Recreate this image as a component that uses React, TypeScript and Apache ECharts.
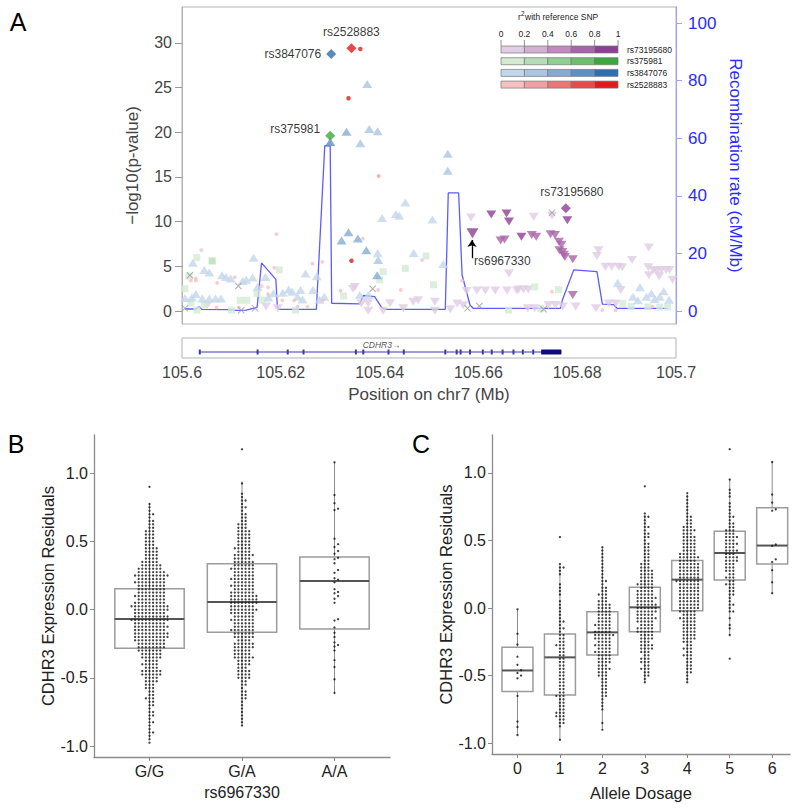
import React, { useEffect, useRef } from "react";
import * as echarts from "echarts";

const FONT = "'Liberation Sans', Arial, Helvetica, sans-serif";

// ---------------- Panel A : regional association plot ----------------
const positionTicks = [105.6, 105.62, 105.64, 105.66, 105.68, 105.7];
const logpTicks = [0, 5, 10, 15, 20, 25, 30];
const recombTicks = [0, 20, 40, 60, 80, 100];
const r2TickLabels = ["0", "0.2", "0.4", "0.6", "0.8", "1"];
const legendSnps = ["rs73195680", "rs375981", "rs3847076", "rs2528883"];

const purpleShades = ["#e0cce4", "#d4afd4", "#c08ac0", "#a864a8", "#8e3f94"];
const greenShades = ["#d3ebd3", "#b5deb5", "#90d090", "#6cbf6c", "#3aa83a"];
const blueShades = ["#c3d7ec", "#a9c6e3", "#86abd2", "#5e8fc3", "#2f6eb0"];
const redShades = ["#f7c0c0", "#f4a0a0", "#ef7575", "#ea4a4a", "#e31a1c"];

// recombination rate (cM/Mb) along the region: [position Mb, rate]
const recombRate = [
  [105.6006, 0.7], [105.6028, 0.7], [105.6035, 1.5], [105.604, 0.6], [105.6096, 0.5],
  [105.611, 0.2], [105.613, 0.3], [105.6152, 1.3], [105.6161, 16.7], [105.619, 11.0],
  [105.6193, 1.5], [105.6196, 0.6], [105.6272, 0.6], [105.6289, 57.4], [105.63, 57.4],
  [105.6303, 2.7], [105.636, 2.5], [105.6367, 5.4], [105.639, 5.0], [105.6404, 1.3],
  [105.641, 0.6], [105.6533, 0.6], [105.6539, 41], [105.656, 41], [105.6567, 12.5],
  [105.6583, 2.1], [105.659, 0.9], [105.6766, 0.9], [105.677, 3.8], [105.6793, 14.3],
  [105.684, 13.7], [105.6851, 2.4], [105.6874, 2.2], [105.6881, 0.9], [105.6983, 0.9],
];

// SNPs in LD with rs3847076 (up triangles): [position, -log10 p, r2 class 0..4]
const ldBlueTriangles = [
  [105.6375, 25.4, 1], [105.6333, 20.05, 2], [105.6379, 20.35, 1], [105.6396, 20.1, 1],
  [105.6361, 18.75, 1], [105.63, 18.9, 3], [105.6538, 17.6, 1], [105.6538, 15.7, 1],
  [105.6323, 7.9, 2], [105.6337, 8.8, 2], [105.6356, 8.1, 2], [105.6373, 6.8, 2],
  [105.6395, 4.0, 2], [105.6397, 5.7, 1], [105.6396, 6.45, 0], [105.6405, 10.4, 0],
  [105.6433, 10.85, 0], [105.644, 10.65, 0], [105.6452, 12.15, 0], [105.6469, 6.5, 0],
  [105.6507, 10.25, 0], [105.6529, 5.25, 0], [105.6022, 5.4, 0], [105.6045, 4.6, 0],
  [105.6055, 4.3, 0], [105.6081, 4.0, 0], [105.6089, 3.8, 0], [105.6099, 3.65, 0],
  [105.6123, 3.35, 0], [105.613, 3.5, 0], [105.6143, 3.75, 0], [105.6145, 5.95, 0],
  [105.6153, 2.7, 0], [105.6169, 3.8, 0], [105.6006, 1.45, 0], [105.602, 1.5, 0],
  [105.6041, 1.4, 0], [105.6055, 1.4, 0], [105.6068, 1.4, 0], [105.6079, 1.4, 0],
  [105.6175, 1.5, 0], [105.6185, 2.0, 0], [105.6204, 2.05, 0], [105.6216, 2.4, 0],
  [105.6223, 2.15, 0], [105.624, 2.35, 0], [105.6234, 1.6, 0], [105.6244, 1.3, 0],
  [105.625, 4.2, 0], [105.6265, 2.35, 0], [105.6273, 3.9, 0], [105.6278, 1.25, 0],
  [105.6288, 1.6, 0], [105.636, 1.8, 0], [105.6377, 1.8, 0], [105.6882, 3.15, 0],
  [105.6913, 1.6, 0], [105.6923, 1.2, 0], [105.6927, 2.65, 0], [105.694, 1.6, 0],
  [105.695, 2.0, 0], [105.6957, 1.35, 0], [105.6967, 1.6, 0], [105.6975, 2.2, 0],
  [105.6986, 1.25, 0], [105.6028, 1.9, 0],
];

// SNPs in LD with rs73195680 (down triangles)
const ldPurpleTriangles = [
  [105.6626, 10.8, 4], [105.6657, 10.9, 4], [105.6662, 10.0, 4], [105.6645, 7.9, 3],
  [105.6653, 8.0, 3], [105.6687, 8.3, 4], [105.6708, 8.5, 3], [105.6717, 8.3, 3],
  [105.6746, 8.6, 3], [105.6755, 8.5, 3], [105.6763, 7.75, 3], [105.6768, 7.4, 3],
  [105.6764, 6.8, 3], [105.677, 6.6, 3], [105.6773, 6.3, 3], [105.6775, 6.05, 3],
  [105.6791, 5.8, 3], [105.678, 10.15, 4], [105.6791, 1.8, 3], [105.6585, 10.45, 0],
  [105.6712, 10.55, 0], [105.6749, 10.65, 0], [105.6662, 4.2, 0], [105.684, 6.15, 0],
  [105.6843, 6.8, 0], [105.6945, 7.1, 0], [105.6911, 5.7, 0], [105.6857, 4.95, 0],
  [105.687, 4.95, 0], [105.6884, 4.95, 0], [105.6891, 4.9, 0], [105.6944, 4.9, 0],
  [105.6954, 4.6, 0], [105.6961, 4.45, 0], [105.697, 4.6, 0], [105.698, 4.6, 0],
  [105.6987, 4.6, 0], [105.6993, 3.5, 0], [105.6945, 4.0, 0], [105.6966, 3.9, 0],
  [105.6051, 0.65, 0], [105.617, 0.5, 0], [105.6194, 0.3, 0], [105.6346, 2.5, 0],
  [105.635, 2.7, 0], [105.6363, 0.85, 0], [105.6377, 0.86, 0], [105.6377, 0.03, 0],
  [105.6407, 0.03, 0], [105.6421, 0.86, 0], [105.6448, 0.3, 0], [105.6468, 1.04, 0],
  [105.6478, 1.2, 0], [105.6512, 1.04, 0], [105.6512, 0.03, 0], [105.6543, 0.2, 0],
  [105.6557, 0.85, 0], [105.6569, 0.65, 0], [105.6576, 2.25, 0], [105.6597, 2.3, 0],
  [105.6614, 2.3, 0], [105.6634, 2.3, 0], [105.6658, 2.3, 0], [105.6678, 2.3, 0],
  [105.6681, 2.4, 0], [105.6691, 2.4, 0], [105.6701, 2.4, 0], [105.67, 0.3, 0],
  [105.6714, 0.3, 0], [105.6742, 0.65, 0], [105.6756, 0.67, 0], [105.6771, 0.5, 0],
  [105.6797, 0.5, 0], [105.6838, 0.3, 0], [105.6864, 0.85, 0], [105.6878, 0.85, 0],
  [105.6888, 2.35, 0],
];

// SNPs in LD with rs375981 (squares)
const ldGreenSquares = [
  [105.603, 5.97, 0], [105.6061, 5.6, 1], [105.6014, 3.9, 0], [105.6006, 2.5, 0],
  [105.603, 0.1, 0], [105.6152, 1.98, 0], [105.6163, 1.23, 0], [105.6118, 1.2, 0],
  [105.6131, 1.2, 0], [105.6197, 4.6, 0], [105.6327, 1.68, 0], [105.6407, 4.4, 0],
  [105.64, 3.5, 0], [105.6452, 4.77, 0], [105.6494, 6.15, 0], [105.6509, 2.94, 0],
  [105.6661, 0.1, 0], [105.6714, 2.7, 0], [105.6762, 2.4, 0], [105.6892, 0.85, 0],
  [105.6909, 0.5, 0], [105.6943, 0.45, 0], [105.6967, 0.45, 0], [105.6983, 0.45, 0],
  [105.6726, 0.3, 0], [105.623, 0.1, 0], [105.61, 0.1, 0], [105.6045, 0.7, 0],
  [105.6018, 0.9, 0],
];

// SNPs in LD with rs2528883 (dots)
const ldRedDots = [
  [105.6361, 29.3, 4], [105.6337, 23.8, 4], [105.6343, 5.63, 4], [105.6398, 15.1, 1],
  [105.6366, 8.1, 0], [105.6486, 5.7, 0], [105.6443, 2.35, 0], [105.6191, 8.6, 0],
  [105.6039, 6.8, 0], [105.6028, 3.65, 0], [105.6107, 3.8, 0], [105.6018, 3.4, 0],
  [105.6028, 3.4, 0], [105.6071, 3.15, 0], [105.6161, 2.8, 0], [105.6174, 2.65, 0],
  [105.6174, 1.9, 0], [105.6187, 4.84, 0], [105.6264, 5.3, 0], [105.6284, 5.5, 0],
  [105.6321, 2.27, 0], [105.6285, 1.2, 0], [105.6203, 1.2, 0], [105.6227, 1.2, 0],
  [105.6234, 0.5, 0], [105.6254, 0.5, 0], [105.6397, 2.35, 0], [105.6567, 3.4, 0],
  [105.6749, 2.16, 0], [105.6851, 0.1, 0], [105.6878, 0.1, 0], [105.6952, 0.5, 0],
  [105.607, 0.4, 0], [105.6115, 0.4, 0],
];

// SNPs without LD information (crosses)
const noLdCrosses = [
  [105.6016, 4.0], [105.6114, 2.8], [105.6386, 2.5], [105.6602, 0.56], [105.6749, 11.0],
  [105.6732, 0.2], [105.6006, 0.3], [105.612, 0.1], [105.6148, 0.3], [105.6578, 0.3],
];

// reference SNPs (diamonds)
const leadNames = ["rs2528883", "rs3847076", "rs375981", "rs73195680"];
const leadPositions = [105.6343, 105.6302, 105.63, 105.6777];
const leadLogp = [29.4, 28.75, 19.6, 11.5];
const queriedSnp = ["rs6967330", 105.6588, 8.7];

// CDHR3 gene model
const geneSpan = [105.6036, 105.6768];
const geneUtr = [105.6727, 105.6768];
const geneExons = [
  105.6036, 105.6153, 105.6214, 105.6246, 105.6352, 105.6367, 105.6418, 105.6449, 105.6533,
  105.6556, 105.6564, 105.6583, 105.6609, 105.6627, 105.6649, 105.6671, 105.669, 105.6711,
];

// ---------------- Panels B and C : expression residuals ----------------
const residualTicks = [-1, -0.5, 0, 0.5, 1];
const genotypes = ["G/G", "G/A", "A/A"];
// [lower whisker, q1, median, q3, upper whisker]
const genotypeBoxes = [
  [-0.95, -0.283, -0.068, 0.154, 0.78],
  [-0.85, -0.166, 0.056, 0.337, 0.94],
  [-0.62, -0.141, 0.21, 0.385, 1.08],
];
const rowStep = 0.025;
// number of dots in each 0.025-high row of the swarm, from the bottom row upwards
const ggRowStart = -0.975;
const ggRowCounts = [
  1, 1, 1, 2, 1, 1, 2, 1, 2, 2, 1, 2, 2, 3, 2, 2, 3, 3, 4, 4, 6, 6, 4, 5, 4, 6, 6, 7, 8, 8,
  9, 10, 10, 9, 10, 9, 11, 10, 9, 10, 11, 9, 8, 9, 8, 8, 8, 9, 8, 10, 8, 7, 6, 5, 4, 4, 4, 4,
  3, 3, 3, 3, 3, 2, 2, 2, 1, 2, 1, 1, 1, 0, 0, 0, 0, 1,
];
const gaRowStart = -0.85;
const gaRowCounts = [
  1, 1, 1, 1, 1, 1, 1, 1, 2, 2, 2, 1, 2, 2, 4, 4, 4, 3, 4, 4, 6, 5, 5, 6, 6, 4, 6, 6, 7, 6,
  6, 7, 6, 7, 8, 7, 8, 8, 8, 7, 6, 7, 6, 7, 6, 6, 7, 6, 6, 5, 6, 4, 5, 4, 4, 4, 4, 4, 3, 3,
  2, 2, 2, 1, 2, 1, 2, 1, 1, 0, 0, 1, 0, 0, 0, 0, 0, 0, 0, 0, 0, 1,
];
const aaValues = [
  1.08, 0.84, 0.78, 0.74, 0.73, 0.52, 0.48, 0.46, 0.43, 0.41, 0.38, 0.37, 0.34, 0.29, 0.27,
  0.23, 0.22, 0.2, 0.15, 0.13, 0.12, 0.1, 0.08, 0.05, -0.07, -0.08, -0.13, -0.17, -0.2, -0.24,
  -0.26, -0.27, -0.3, -0.37, -0.42, -0.51, -0.61,
];

const dosages = ["0", "1", "2", "3", "4", "5", "6"];
const dosageBoxes = [
  [-0.94, -0.617, -0.462, -0.291, -0.012],
  [-0.98, -0.644, -0.365, -0.193, 0.316],
  [-0.89, -0.348, -0.18, -0.027, 0.449],
  [-0.55, -0.175, 0.005, 0.153, 0.69],
  [-0.55, -0.02, 0.21, 0.351, 0.84],
  [-0.2, 0.207, 0.407, 0.568, 0.955],
  [0.11, 0.326, 0.462, 0.741, 1.08],
];
const dose0Values = [-0.01, -0.19, -0.27, -0.36, -0.42, -0.46, -0.48, -0.5, -0.52, -0.65, -0.84, -0.88, -0.94];
const dose1RowStart = -0.975;
const dose1RowCounts = [
  1, 0, 0, 0, 1, 2, 2, 3, 3, 2, 2, 2, 2, 3, 2, 2, 2, 2, 2, 2, 2, 2, 2, 2, 2, 2, 2, 2, 3, 2,
  2, 2, 1, 2, 1, 2, 1, 1, 1, 1, 1, 1, 0, 1, 1, 1, 1, 0, 0, 1, 1, 2, 1, 0, 0, 0, 0, 0, 0, 0, 1,
];
const dose2RowStart = -0.9;
const dose2RowCounts = [
  1, 0, 1, 0, 0, 0, 1, 1, 1, 1, 2, 2, 2, 2, 2, 2, 3, 3, 4, 3, 4, 4, 4, 5, 4, 5, 4, 5, 6, 5,
  4, 5, 4, 4, 4, 4, 4, 4, 3, 2, 3, 2, 2, 1, 2, 1, 1, 1, 1, 1, 1, 1, 1, 1, 1,
];
const dose3RowStart = -0.55;
const dose3RowCounts = [
  1, 1, 2, 2, 3, 2, 3, 3, 2, 3, 4, 4, 3, 4, 4, 5, 5, 4, 5, 6, 5, 6, 6, 6, 5, 6, 5, 5, 4, 5,
  4, 4, 4, 4, 3, 3, 2, 2, 2, 2, 2, 2, 1, 2, 2, 1, 2, 1, 1, 2, 1, 0, 0, 0, 0, 0, 0, 0, 1,
];
const dose4RowStart = -0.55;
const dose4RowCounts = [
  1, 1, 1, 2, 2, 2, 2, 2, 3, 2, 3, 2, 3, 4, 4, 4, 4, 4, 4, 5, 4, 5, 6, 6, 6, 6, 6, 6, 6, 6,
  7, 6, 6, 6, 6, 6, 5, 6, 5, 4, 4, 4, 4, 4, 3, 4, 3, 2, 2, 2, 1, 1, 1, 1, 1, 1, 1,
];
const dose5RowStart = -0.375;
const dose5RowCounts = [
  1, 0, 0, 0, 0, 0, 0, 1, 0, 1, 1, 0, 1, 0, 2, 1, 2, 1, 1, 2, 2, 2, 3, 2, 3, 2, 3, 3, 3, 4,
  4, 3, 4, 3, 4, 3, 4, 3, 3, 2, 2, 1, 2, 1, 1, 1, 1, 0, 1, 1, 1, 0, 0, 1, 0, 0, 0, 0, 0, 0,
  0, 0, 1,
];
const dose6Values = [1.08, 0.84, 0.78, 0.73, 0.72, 0.47, 0.46, 0.36, 0.34, 0.28, 0.19, 0.11];

// ---------------- helpers ----------------
function rowsToValues(start: number, counts: number[]) {
  const out: number[] = [];
  counts.forEach((n, i) => {
    const v = Math.round((start + i * rowStep) * 1000) / 1000;
    for (let j = 0; j < n; j++) out.push(v);
  });
  return out;
}

// beeswarm layout: returns [x, y] in data units
function swarm(values: number[], cx: number, pxPerX: number, pxPerY: number, d = 3.6) {
  const sorted = [...values].sort((a, b) => a - b);
  const placed: number[][] = [];
  const out: number[][] = [];
  const dv = 3.2; // vertical collision distance in px
  for (const v of sorted) {
    const py = v * pxPerY;
    let chosen = 0;
    for (let i = 0; i < 400; i++) {
      const off = i === 0 ? 0 : (i % 2 === 1 ? 1 : -1) * Math.ceil(i / 2) * d;
      let ok = true;
      for (const [ox, oy] of placed) {
        if (Math.abs(oy - py) < dv && Math.abs(ox - off) < d * 0.99) {
          ok = false;
          break;
        }
      }
      if (ok) {
        chosen = off;
        break;
      }
    }
    placed.push([chosen, py]);
    out.push([cx + chosen / pxPerX, v]);
  }
  return out;
}

const boxRenderer = (hw: number) => (params: any, api: any) => {
  const x = api.value(0);
  const lo = api.value(1), q1 = api.value(2), med = api.value(3), q3 = api.value(4), hi = api.value(5);
  const pLo = api.coord([x, lo]);
  const pHi = api.coord([x, hi]);
  const pTL = api.coord([x - hw, q3]);
  const pBR = api.coord([x + hw, q1]);
  const pML = api.coord([x - hw, med]);
  const pMR = api.coord([x + hw, med]);
  return {
    type: "group",
    children: [
      { type: "line", shape: { x1: pLo[0], y1: pLo[1], x2: pHi[0], y2: pHi[1] }, style: { stroke: "#8c8c8c", lineWidth: 1 } },
      {
        type: "rect",
        shape: { x: pTL[0], y: pTL[1], width: pBR[0] - pTL[0], height: pBR[1] - pTL[1] },
        style: { fill: "#ffffff", stroke: "#9c9c9c", lineWidth: 1.5 },
      },
      { type: "line", shape: { x1: pML[0], y1: pML[1], x2: pMR[0], y2: pMR[1] }, style: { stroke: "#555555", lineWidth: 2 } },
    ],
  };
};

function buildOption() {
  const colored = (arr: number[][], shades: string[]) =>
    arr.map(([x, y, l]) => ({ value: [x, y], itemStyle: { color: shades[l] } }));

  const leadFamilies = [redShades, blueShades, greenShades, purpleShades];
  const leadLabelPos: any[] = [
    { position: "top", distance: 5 },
    { position: "left", distance: 5 },
    { position: "left", distance: 5, offset: [0, -7] },
    { position: "top", distance: 5, offset: [6, 0] },
  ];
  const leadData = leadNames.map((n, i) => ({
    name: n,
    value: [leadPositions[i], leadLogp[i]],
    itemStyle: { color: leadFamilies[i][4] },
    label: leadLabelPos[i],
  }));

  // B swarms (px per unit: x 92.5, y 136.5)
  const bPoints = [
    ...swarm(rowsToValues(ggRowStart, ggRowCounts), 1, 92.5, 136.5),
    ...swarm(rowsToValues(gaRowStart, gaRowCounts), 2, 92.5, 136.5),
    ...swarm(aaValues, 3, 92.5, 136.5),
  ];
  // C swarms (px per unit: x 42.5, y 135)
  const cGroups = [
    dose0Values,
    rowsToValues(dose1RowStart, dose1RowCounts),
    rowsToValues(dose2RowStart, dose2RowCounts),
    rowsToValues(dose3RowStart, dose3RowCounts),
    rowsToValues(dose4RowStart, dose4RowCounts),
    rowsToValues(dose5RowStart, dose5RowCounts),
    dose6Values,
  ];
  const cPoints: number[][] = [];
  cGroups.forEach((g, i) => cPoints.push(...swarm(g, i, 42.5, 135)));

  // legend graphics
  const lx0 = 501, cell = 23.4, ly0 = 46, lstep = 11.7;
  const legendShades = [purpleShades, greenShades, blueShades, redShades];
  const graphics: any[] = [
    { type: "text", x: 18, y: 22, style: { text: "A", fontSize: 25, fontFamily: FONT, fill: "#000", align: "center", verticalAlign: "middle" } },
    { type: "text", x: 16, y: 444, style: { text: "B", fontSize: 25, fontFamily: FONT, fill: "#000", align: "center", verticalAlign: "middle" } },
    { type: "text", x: 421, y: 444, style: { text: "C", fontSize: 25, fontFamily: FONT, fill: "#000", align: "center", verticalAlign: "middle" } },
    { type: "text", x: 518, y: 17, style: { text: "r", fontSize: 8.5, fontFamily: FONT, fill: "#222", align: "left", verticalAlign: "middle" } },
    { type: "text", x: 521, y: 13, style: { text: "2", fontSize: 6.5, fontFamily: FONT, fill: "#222", align: "left", verticalAlign: "middle" } },
    { type: "text", x: 525, y: 17, style: { text: "with reference SNP", fontSize: 8.5, fontFamily: FONT, fill: "#222", align: "left", verticalAlign: "middle" } },
  ];
  r2TickLabels.forEach((t, i) => {
    graphics.push({ type: "text", x: lx0 + i * cell, y: 34, style: { text: t, fontSize: 8.5, fontFamily: FONT, fill: "#222", align: "center", verticalAlign: "middle" } });
    graphics.push({ type: "line", shape: { x1: lx0 + i * cell, y1: 40, x2: lx0 + i * cell, y2: 46 }, style: { stroke: "#777", lineWidth: 0.8 } });
  });
  legendSnps.forEach((s, r) => {
    for (let c = 0; c < 5; c++) {
      graphics.push({
        type: "rect",
        shape: { x: lx0 + c * cell, y: ly0 + r * lstep, width: cell, height: 7 },
        style: { fill: legendShades[r][c], stroke: "#777", lineWidth: 0.7 },
      });
    }
    graphics.push({ type: "text", x: 627, y: ly0 + r * lstep + 3.5, style: { text: s, fontSize: 8.5, fontFamily: FONT, fill: "#222", align: "left", verticalAlign: "middle" } });
  });

  const residAxis = (gridIndex: number, nameGap: number) => ({
    gridIndex,
    type: "value",
    min: -1.08,
    max: 1.28,
    name: "CDHR3 Expression Residuals",
    nameLocation: "middle",
    nameGap,
    nameTextStyle: { fontSize: 16.5, color: "#222", fontFamily: FONT },
    axisLine: { show: true, onZero: false, lineStyle: { color: "#8a8a8a", width: 1.3 } },
    axisTick: { show: true, customValues: residualTicks, length: 4, lineStyle: { color: "#8a8a8a" } },
    axisLabel: { customValues: residualTicks, formatter: (v: number) => v.toFixed(1), fontSize: 16, color: "#222", margin: 6, fontFamily: FONT },
    splitLine: { show: false },
  });

  return {
    animation: false,
    textStyle: { fontFamily: FONT },
    graphic: graphics,
    grid: [
      { left: 182, top: 7, width: 494, height: 317, show: true, borderColor: "#b3b3b3", borderWidth: 1 },
      { left: 182, top: 338, width: 494, height: 20, show: true, borderColor: "#b3b3b3", borderWidth: 1 },
      { left: 94, top: 435, width: 296, height: 322 },
      { left: 492, top: 435, width: 298, height: 319 },
    ],
    xAxis: [
      { gridIndex: 0, type: "value", min: 105.6, max: 105.7, axisLabel: { show: false }, axisTick: { show: false }, axisLine: { show: false }, splitLine: { show: false } },
      {
        gridIndex: 1,
        type: "value",
        min: 105.6,
        max: 105.7,
        axisLine: { show: false },
        axisTick: { show: false },
        splitLine: { show: false },
        axisLabel: { customValues: positionTicks, formatter: (v: number) => String(parseFloat(v.toFixed(2))), fontSize: 16, color: "#444", margin: 6, fontFamily: FONT },
        name: "Position on chr7 (Mb)",
        nameLocation: "middle",
        nameGap: 28,
        nameTextStyle: { fontSize: 17, color: "#444", fontFamily: FONT },
      },
      {
        gridIndex: 2,
        type: "value",
        min: 0.4,
        max: 3.6,
        name: "rs6967330",
        nameLocation: "middle",
        nameGap: 27,
        nameTextStyle: { fontSize: 16, color: "#222", fontFamily: FONT },
        axisLine: { show: true, onZero: false, lineStyle: { color: "#8a8a8a", width: 1.3 } },
        axisTick: { show: true, customValues: [1, 2, 3], length: 4, lineStyle: { color: "#8a8a8a" } },
        axisLabel: { customValues: [1, 2, 3], formatter: (v: number) => genotypes[Math.round(v) - 1], fontSize: 16, color: "#222", margin: 6, fontFamily: FONT },
        splitLine: { show: false },
      },
      {
        gridIndex: 3,
        type: "value",
        min: -0.6,
        max: 6.42,
        name: "Allele Dosage",
        nameLocation: "middle",
        nameGap: 30,
        nameTextStyle: { fontSize: 16.5, color: "#222", fontFamily: FONT },
        axisLine: { show: true, onZero: false, lineStyle: { color: "#8a8a8a", width: 1.3 } },
        axisTick: { show: true, customValues: [0, 1, 2, 3, 4, 5, 6], length: 4, lineStyle: { color: "#8a8a8a" } },
        axisLabel: { customValues: [0, 1, 2, 3, 4, 5, 6], formatter: (v: number) => dosages[Math.round(v)], fontSize: 16, color: "#222", margin: 6, fontFamily: FONT },
        splitLine: { show: false },
      },
    ],
    yAxis: [
      {
        gridIndex: 0,
        type: "value",
        min: -1.45,
        max: 34,
        position: "left",
        name: "\u2212log10(p-value)",
        nameLocation: "middle",
        nameGap: 41,
        nameTextStyle: { fontSize: 17, color: "#444", fontFamily: FONT },
        axisLine: { show: true, onZero: false, lineStyle: { color: "#b3b3b3" } },
        axisTick: { show: true, customValues: logpTicks, length: 7, lineStyle: { color: "#999" } },
        axisLabel: { customValues: logpTicks, fontSize: 16, color: "#444", margin: 10, fontFamily: FONT },
        splitLine: { show: false },
      },
      {
        gridIndex: 0,
        type: "value",
        min: -4.5,
        max: 105.57,
        position: "right",
        name: "Recombination rate (cM/Mb)",
        nameLocation: "middle",
        nameRotate: -90,
        nameGap: 46,
        nameTextStyle: { fontSize: 17, color: "#2b2bff", fontFamily: FONT },
        axisLine: { show: true, onZero: false, lineStyle: { color: "#a0a0f0" } },
        axisTick: { show: true, customValues: recombTicks, length: 6, lineStyle: { color: "#a0a0f0" } },
        axisLabel: { customValues: recombTicks, fontSize: 17, color: "#2b2bff", margin: 12, fontFamily: FONT },
        splitLine: { show: false },
      },
      { gridIndex: 1, type: "value", min: 0, max: 1, show: false },
      residAxis(2, 37),
      residAxis(3, 38),
    ],
    series: [
      {
        type: "line",
        xAxisIndex: 0,
        yAxisIndex: 1,
        data: recombRate,
        symbol: "none",
        lineStyle: { color: "#5c5cff", width: 1.3 },
        z: 1,
      },
      {
        type: "scatter",
        xAxisIndex: 0,
        yAxisIndex: 0,
        symbol: "triangle",
        symbolSize: [10, 8],
        symbolRotate: 180,
        data: colored(ldPurpleTriangles, purpleShades),
        z: 2,
      },
      {
        type: "scatter",
        xAxisIndex: 0,
        yAxisIndex: 0,
        symbol: "rect",
        symbolSize: 7,
        data: colored(ldGreenSquares, greenShades),
        z: 2,
      },
      {
        type: "scatter",
        xAxisIndex: 0,
        yAxisIndex: 0,
        symbol: "triangle",
        symbolSize: [10, 8],
        data: colored(ldBlueTriangles, blueShades),
        z: 3,
      },
      {
        type: "scatter",
        xAxisIndex: 0,
        yAxisIndex: 0,
        symbol: "circle",
        symbolSize: (v: any, p: any) => (ldRedDots[p.dataIndex][2] >= 3 ? 4.5 : 3.8),
        data: colored(ldRedDots, redShades),
        z: 3,
      },
      {
        type: "scatter",
        xAxisIndex: 0,
        yAxisIndex: 0,
        symbol: "path://M1,0L5,4L9,0L10,1L6,5L10,9L9,10L5,6L1,10L0,9L4,5L0,1Z",
        symbolSize: 7,
        itemStyle: { color: "#9a9a9a" },
        data: noLdCrosses,
        z: 3,
      },
      {
        type: "scatter",
        xAxisIndex: 0,
        yAxisIndex: 0,
        symbol: "triangle",
        symbolSize: [12, 10],
        symbolRotate: 180,
        itemStyle: { color: purpleShades[4] },
        data: [[queriedSnp[1], queriedSnp[2]]],
        z: 4,
      },
      {
        type: "scatter",
        xAxisIndex: 0,
        yAxisIndex: 0,
        symbol: "diamond",
        symbolSize: 10,
        data: leadData,
        label: { show: true, formatter: "{b}", fontSize: 12, color: "#000", fontFamily: FONT },
        z: 5,
      },
      {
        type: "lines",
        coordinateSystem: "cartesian2d",
        xAxisIndex: 0,
        yAxisIndex: 0,
        symbol: ["none", "arrow"],
        symbolSize: 7,
        lineStyle: { color: "#000", width: 1.3, opacity: 1 },
        data: [{ coords: [[105.6587, 5.9], [105.6587, 7.95]] }],
        z: 5,
      },
      {
        type: "scatter",
        xAxisIndex: 0,
        yAxisIndex: 0,
        symbol: "circle",
        symbolSize: 1,
        itemStyle: { color: "rgba(0,0,0,0)" },
        data: [{ name: queriedSnp[0], value: [105.659, 5.6] }],
        label: { show: true, formatter: "{b}", position: "right", distance: 0, fontSize: 12, color: "#000", fontFamily: FONT },
        z: 5,
      },
      // gene track
      {
        type: "line",
        xAxisIndex: 1,
        yAxisIndex: 2,
        data: [[geneSpan[0], 0.3], [geneSpan[1], 0.3]],
        symbol: "none",
        lineStyle: { color: "#3a3ab8", width: 1 },
      },
      {
        type: "line",
        xAxisIndex: 1,
        yAxisIndex: 2,
        data: [[geneUtr[0], 0.3], [geneUtr[1], 0.3]],
        symbol: "none",
        lineStyle: { color: "#0c0c80", width: 5 },
      },
      {
        type: "scatter",
        xAxisIndex: 1,
        yAxisIndex: 2,
        symbol: "rect",
        symbolSize: [2, 5],
        itemStyle: { color: "#0c0c80" },
        data: geneExons.map((e) => [e, 0.3]),
      },
      {
        type: "scatter",
        xAxisIndex: 1,
        yAxisIndex: 2,
        symbolSize: 1,
        itemStyle: { color: "rgba(0,0,0,0)" },
        data: [{ name: "CDHR3\u2192", value: [105.6404, 0.66] }],
        label: { show: true, formatter: "{b}", position: "inside", fontSize: 8.5, fontStyle: "italic", color: "#222", fontFamily: FONT },
      },
      // panel B
      {
        type: "custom",
        xAxisIndex: 2,
        yAxisIndex: 3,
        renderItem: boxRenderer(0.375),
        data: genotypeBoxes.map((b, i) => [i + 1, ...b]),
        encode: { x: 0, y: [1, 2, 3, 4, 5] },
        z: 1,
      },
      {
        type: "scatter",
        xAxisIndex: 2,
        yAxisIndex: 3,
        symbolSize: 2.3,
        itemStyle: { color: "#111" },
        data: bPoints,
        z: 2,
      },
      // panel C
      {
        type: "custom",
        xAxisIndex: 3,
        yAxisIndex: 4,
        renderItem: boxRenderer(0.365),
        data: dosageBoxes.map((b, i) => [i, ...b]),
        encode: { x: 0, y: [1, 2, 3, 4, 5] },
        z: 1,
      },
      {
        type: "scatter",
        xAxisIndex: 3,
        yAxisIndex: 4,
        symbolSize: 2.3,
        itemStyle: { color: "#111" },
        data: cPoints,
        z: 2,
      },
    ],
  };
}

export default function App() {
  const ref = useRef<HTMLDivElement>(null);
  useEffect(() => {
    if (!ref.current) return;
    const chart = echarts.init(ref.current, undefined, { renderer: "svg" });
    chart.setOption(buildOption() as any);
    return () => chart.dispose();
  }, []);
  return (
    <div
      ref={ref}
      style={{ position: "absolute", left: 0, top: 0, width: 800, height: 809, background: "#fff" }}
    />
  );
}
